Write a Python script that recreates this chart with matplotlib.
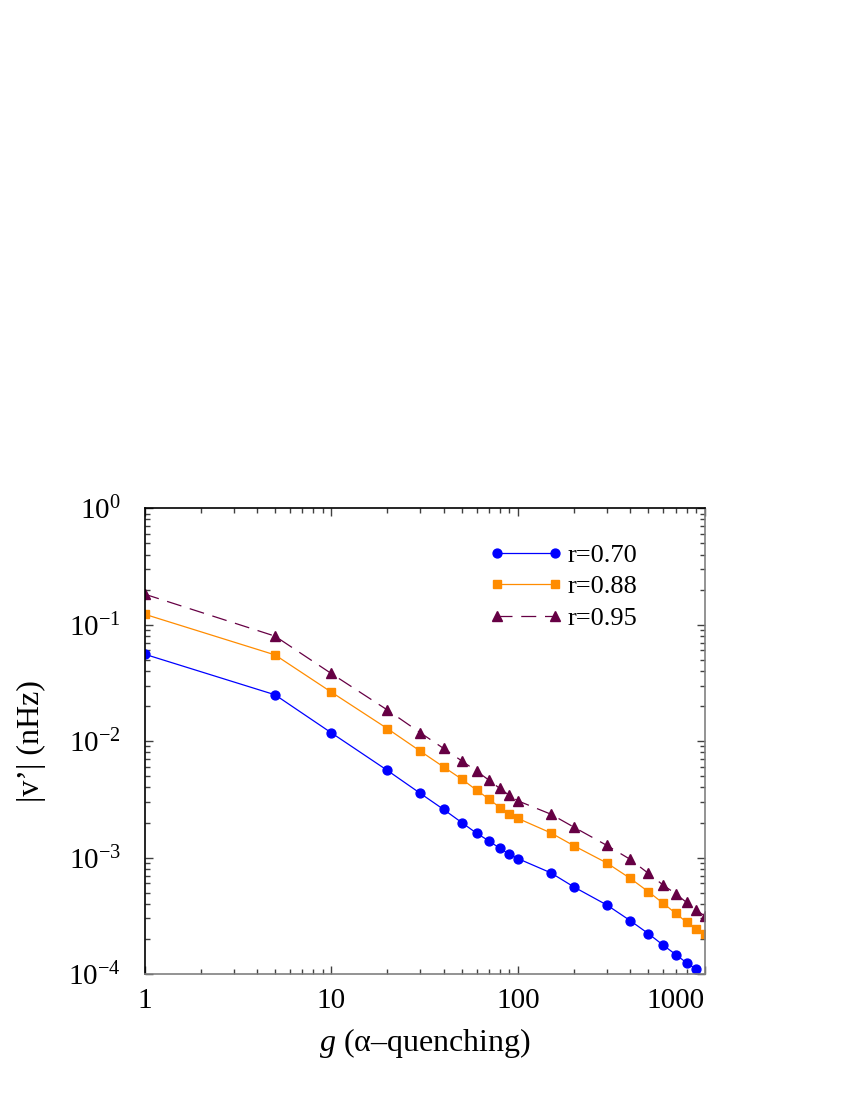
import numpy as np
import matplotlib
matplotlib.use("Agg")
import matplotlib.pyplot as plt
from matplotlib.ticker import LogLocator, FixedLocator, FixedFormatter, NullFormatter

plt.rcParams['font.family'] = ['Liberation Serif', 'DejaVu Serif']
plt.rcParams['mathtext.fontset'] = 'custom'
plt.rcParams['mathtext.rm'] = 'Liberation Serif'
plt.rcParams['mathtext.it'] = 'Liberation Serif:italic'

# ----------------------------
# Data
# ----------------------------
g = [1, 5, 10, 20, 30, 40, 50, 60, 70, 80, 90, 100,
     150, 200, 300, 400, 500, 600, 700, 800, 900, 1000]

# r = 0.70 (last point at g=1000 falls below the axis)
v_070 = [0.0558, 0.025, 0.0118, 0.0056, 0.00356, 0.00259, 0.0020, 0.00162,
         0.00139, 0.00120, 0.00107, 0.00098, 0.00074, 0.000558, 0.000391,
         0.000287, 0.000222, 0.000177, 0.000147, 0.000125, 0.000110]
# r = 0.88
v_088 = [0.123, 0.055, 0.0264, 0.0128, 0.0082, 0.0060, 0.00472, 0.0038,
         0.00318, 0.00269, 0.00239, 0.00217, 0.00163, 0.00126, 0.000897,
         0.000662, 0.000509, 0.000405, 0.000332, 0.000279, 0.000245, 0.000219]
# r = 0.95
v_095 = [0.183, 0.0797, 0.0381, 0.0185, 0.0118, 0.00865, 0.00677, 0.00553,
         0.00462, 0.00392, 0.00342, 0.00307, 0.00236, 0.00182, 0.00127,
         0.000964, 0.000731, 0.00058, 0.000489, 0.000412, 0.000354, 0.000316]

x_ticks = [1, 10, 100, 1000]
x_ticklabels = ["1", "10", "100", "1000"]

# ----------------------------
# Plot
# ----------------------------
fig = plt.figure(figsize=(8.5, 11), dpi=100)
ax = fig.add_axes([0.170, 0.1145, 0.659, 0.4235])

ax.plot(g[:len(v_070)], v_070, color="#0000ff", lw=0.9, marker="o", ms=6.4,
        label="r=0.70")
ax.plot(g, v_088, color="#ff8c00", lw=0.9, marker="s", ms=5.4,
        label="r=0.88")
ax.plot(g, v_095, color="#660044", lw=0.9, marker="^", ms=6.8,
        linestyle=(0, (12, 7)), label="r=0.95")

ax.set_xscale("log")
ax.set_yscale("log")
ax.set_xlim(1, 1000)
ax.set_ylim(1e-4, 1)

ax.xaxis.set_major_locator(FixedLocator(x_ticks))
ax.xaxis.set_major_formatter(FixedFormatter(x_ticklabels))
ax.xaxis.set_minor_locator(LogLocator(base=10, subs=np.arange(2, 10)))
ax.xaxis.set_minor_formatter(NullFormatter())
ax.yaxis.set_major_locator(LogLocator(base=10, numticks=10))
ax.yaxis.set_minor_locator(LogLocator(base=10, subs=np.arange(2, 10), numticks=10))
ax.yaxis.set_minor_formatter(NullFormatter())

ax.tick_params(which="both", direction="in", top=True, right=True,
               labelsize=21, color="#404040")
ax.tick_params(which="major", length=6, width=1)
ax.tick_params(which="minor", length=3.5, width=1)
ax.tick_params(axis="x", pad=10)
ax.tick_params(axis="y", pad=17)

# the last x label sits flush with the right edge of the frame
ax.get_xticklabels()[-1].set_horizontalalignment("right")

for side in ["left", "top"]:
    ax.spines[side].set_color("black")
for side in ["bottom", "right"]:
    ax.spines[side].set_color("#808080")
for s in ax.spines.values():
    s.set_linewidth(1.2)

ax.set_xlabel(r"$\it{g}$ (α–quenching)", fontsize=23, labelpad=9)
ax.set_ylabel("|v’| (nHz)", fontsize=23, labelpad=16)

ax.legend(loc="upper right", bbox_to_anchor=(0.923, 0.975), frameon=False,
          fontsize=19, numpoints=2, handlelength=2.8, handletextpad=0.17,
          labelspacing=0.3)

fig.savefig("out.png", dpi=100)
